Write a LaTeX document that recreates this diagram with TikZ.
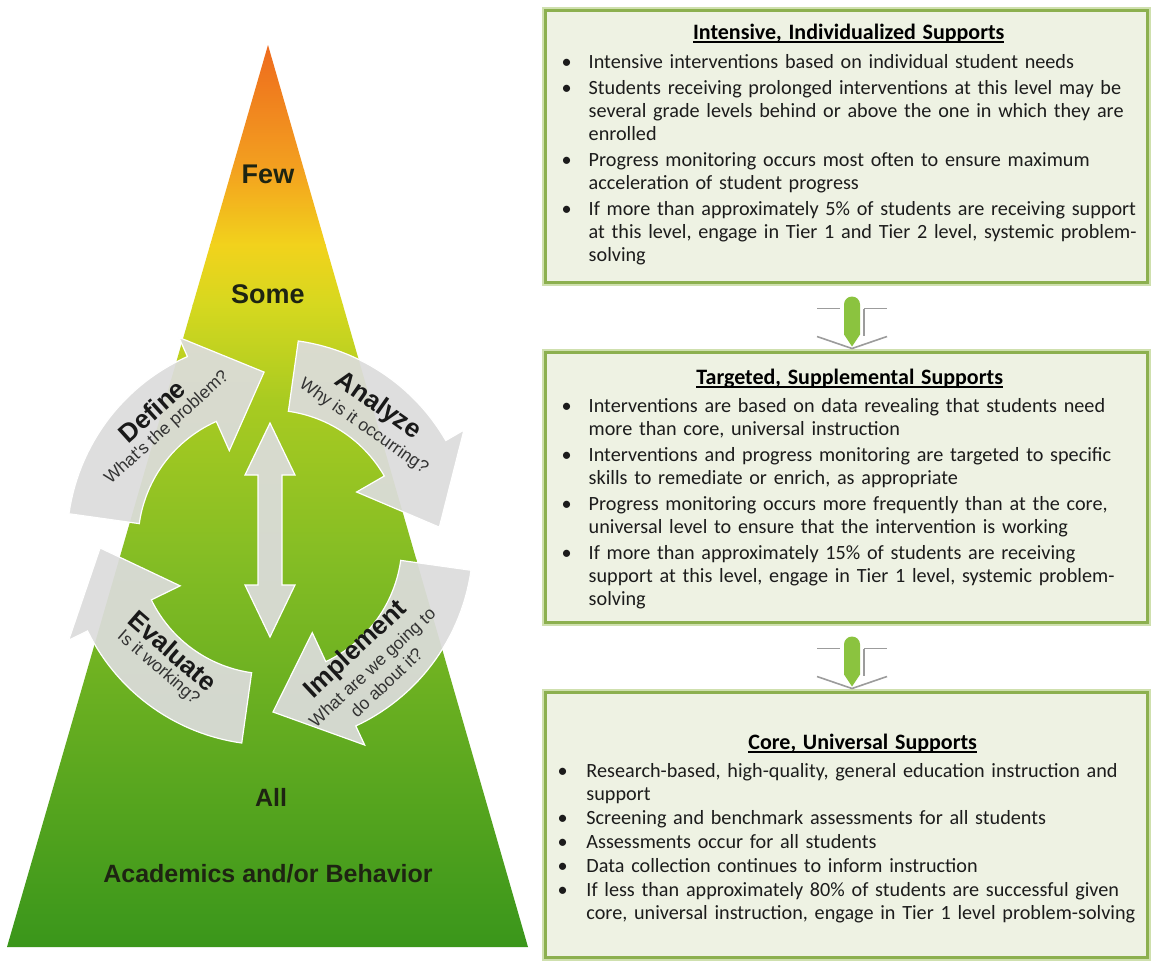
\documentclass[tikz,border=0pt]{standalone}
\usepackage{fontspec}
\setmainfont{Carlito}
\newfontfamily\pyrfont{Liberation Sans}
\usetikzlibrary{calc, positioning}

\definecolor{pyrorange}{HTML}{EE6A1E}
\definecolor{pyramber}{HTML}{F3A11F}
\definecolor{pyryellow}{HTML}{F2D21C}
\definecolor{pyrlime}{HTML}{D6D81F}
\definecolor{pyrleaf}{HTML}{A9CB21}
\definecolor{pyrgreen}{HTML}{84BD24}
\definecolor{pyrdark}{HTML}{3A961B}
\definecolor{pyrink}{HTML}{1E2412}
\definecolor{cyclegray}{HTML}{DCDCDC}
\definecolor{tierline}{HTML}{8CB04F}
\definecolor{tierglow}{HTML}{CFE0AE}
\definecolor{tierfill}{HTML}{EEF2E3}
\definecolor{tierink}{HTML}{1C1C1C}
\definecolor{linkgreen}{HTML}{8BC33F}
\definecolor{linkgraycol}{HTML}{9C9C9C}

% ring of the cycle: inner, outer, barbs, tip
\newcommand{\cycri}{132}
\newcommand{\cycro}{203}
\newcommand{\cycbi}{100}
\newcommand{\cycbo}{224}
\newcommand{\cycrt}{170}

\tikzset{
    tierbox/.style={draw=tierline, line width=3pt, fill=tierfill, minimum width=602pt,
        preaction={draw=tierglow, line width=7pt}},
    tiertext/.style={anchor=north west, inner sep=0pt, align=left, text width=600pt,
        text=tierink, font=\fontsize{20.2}{23}\selectfont},
    pyrlabel/.style={anchor=base, inner sep=0pt, text=pyrink,
        font=\pyrfont\bfseries\fontsize{27}{30}\selectfont},
    cyclearrow/.style={fill=cyclegray, fill opacity=0.93, draw=white, line width=1.2pt},
    cycletitle/.style={inner sep=2.5pt, text=black!90, font=\pyrfont\bfseries\fontsize{26}{28}\selectfont},
    cyclesub/.style={inner sep=2pt, anchor=north, align=center, text=black!80,
        font=\pyrfont\fontsize{17.5}{21}\selectfont},
    linkline/.style={draw=linkgraycol, line width=1.6pt}
}

\newcommand{\blt}[1][30pt]{\makebox[#1][l]{\hspace{3pt}\textbullet}}
\newcommand{\bind}[1][30pt]{\hspace*{#1}}
\newcommand{\tierul}[1]{\setbox0=\hbox{#1}\rlap{\rule[-3.5pt]{\wd0}{1.8pt}}\box0}
\newcommand{\tierhead}[2]{\makebox[#1][c]{\color{black}\fontsize{22}{23}\selectfont\bfseries\tierul{#2}}}

% double arrow between two tier boxes
\newcommand{\tierlink}[2]{%
    \path ($(#1.south)+(6,0)$) coordinate (lt) ($(#2.north)+(6,0)$) coordinate (lb);
    \draw[linkline] ($(lt)+(-35,25)$) -- ($(lt)+(-12,25)$);
    \draw[linkline] ($(lt)+(12,25)$) -- ($(lt)+(35,25)$);
    \draw[linkline] ($(lt)+(12,25)$) -- ($(lb)+(12,-15)$);
    \draw[linkline] ($(lb)+(-35,-14)$) -- ($(lb)+(0,-2)$) -- ($(lb)+(35,-14)$);
    \fill[linkgreen] ($(lt)+(0,21)$) circle[radius=8pt];
    \fill[linkgreen] ($(lt)+(-8,21)$) -- ($(lt)+(8,21)$) -- ($(lb)+(8,-16)$)
        -- ($(lb)+(0,-4)$) -- ($(lb)+(-8,-16)$) -- cycle;
}

\begin{document}
\begin{tikzpicture}[x=1pt, y=-1pt]
    \fill[white] (0,0) rectangle (1151,962);
    \useasboundingbox (0,0) rectangle (1151,962);

    % pyramid
    \coordinate (apex) at (268,45);
    \coordinate (baseL) at (7,947);
    \coordinate (baseR) at (528,947);
    \begin{scope}
        \clip (apex) -- (baseR) -- (baseL) -- cycle;
        \foreach \ya/\yb/\ca/\cb in {44/170/pyrorange/pyramber, 169/245/pyramber/pyryellow,
            244/305/pyryellow/pyrlime, 304/400/pyrlime/pyrleaf, 399/560/pyrleaf/pyrgreen,
            559/948/pyrgreen/pyrdark}
            \shade[top color=\ca, bottom color=\cb] (0,\ya) rectangle (540,\yb);
    \end{scope}

    % cycle of four arrows (angles clockwise, y down)
    \coordinate (cyc) at (270,542);
    \begin{scope}[shift={(cyc)}]
        \foreach \ta/\hb/\tp in {188/246/268, 278/330/355, 368/425/449, 98/154/178}
            \path[cyclearrow] plot[domain=\ta:\hb, samples=30] (\x:\cycro) -- (\hb:\cycbo)
                -- (\tp:\cycrt) -- (\hb:\cycbi) -- plot[domain=\hb:\ta, samples=30] (\x:\cycri) -- cycle;
        \path[cyclearrow] (0,-119) -- (25,-67) -- (12,-67) -- (12,43) -- (25,43) -- (0,95)
            -- (-25,43) -- (-12,43) -- (-12,-67) -- (-25,-67) -- cycle;
    \end{scope}

    \node[pyrlabel] (few) at (268,183) {Few};
    \node[pyrlabel] (some) at (268,303) {Some};
    \node[pyrlabel, font=\pyrfont\bfseries\fontsize{25}{28}\selectfont] (all) at (271,806) {All};
    \node[pyrlabel, font=\pyrfont\bfseries\fontsize{25}{28}\selectfont] (domain) at (268,882) {Academics and/or Behavior};

    \node[cycletitle, rotate=42] (define) at (152,411) {Define};
    \node[cyclesub, rotate=42] (define-sub) at (define.south) {What's the problem?};
    \node[cycletitle, rotate=-35] (analyze) at (378,406) {Analyze};
    \node[cyclesub, rotate=-35] (analyze-sub) at (analyze.south) {Why is it occurring?};
    \node[cycletitle, rotate=-41] (evaluate) at (173,651) {Evaluate};
    \node[cyclesub, rotate=-41] (evaluate-sub) at (evaluate.south) {Is it working?};
    \node[cycletitle, rotate=43] (implement) at (356,650) {Implement};
    \node[cyclesub, rotate=43] (implement-sub) at (implement.south) {What are we going to\\do about it?};

    % tier boxes
    \node[tierbox, minimum height=272pt] (intensive) at (846,146) {};
    \node[tierbox, minimum height=270pt] (targeted) at (846,487) {};
    \node[tierbox, minimum height=265pt] (core) at (846,824.5) {};

    \tierlink{intensive}{targeted}
    \tierlink{targeted}{core}

    \node[tiertext, below right=14.4pt and 15pt of intensive.north west] (intensive-text) {%
        \strut\tierhead{580pt}{Intensive, Individualized Supports}\\[6pt]
        \blt Intensive interventions based on individual student needs\\[3pt]
        \blt Students receiving prolonged interventions at this level may be\\
        \bind several grade levels behind or above the one in which they are\\
        \bind enrolled\\[3pt]
        \blt Progress monitoring occurs most often to ensure maximum\\
        \bind acceleration of student progress\\[3pt]
        \blt If more than approximately 5\% of students are receiving support\\
        \bind at this level, engage in Tier 1 and Tier 2 level, systemic problem-\\
        \bind solving};

    \node[tiertext, below right=17.4pt and 15pt of targeted.north west] (targeted-text) {%
        \strut\tierhead{582pt}{Targeted, Supplemental Supports}\\[5pt]
        \blt Interventions are based on data revealing that students need\\
        \bind more than core, universal instruction\\[3pt]
        \blt Interventions and progress monitoring are targeted to specific\\
        \bind skills to remediate or enrich, as appropriate\\[3pt]
        \blt Progress monitoring occurs more frequently than at the core,\\
        \bind universal level to ensure that the intervention is working\\[3pt]
        \blt If more than approximately 15\% of students are receiving\\
        \bind support at this level, engage in Tier 1 level, systemic problem-\\
        \bind solving};

    \node[tiertext, text width=620pt, below right=42.4pt and 11pt of core.north west] (core-text) {%
        \strut\tierhead{616pt}{Core, Universal Supports}\\[5pt]
        \blt[25pt] Research-based, high-quality, general education instruction and\\
        \bind[25pt] support\\[1pt]
        \blt[25pt] Screening and benchmark assessments for all students\\[1pt]
        \blt[25pt] Assessments occur for all students\\[1pt]
        \blt[25pt] Data collection continues to inform instruction\\[1pt]
        \blt[25pt] If less than approximately 80\% of students are successful given\\
        \bind[25pt] core, universal instruction, engage in Tier 1 level problem-solving};
\end{tikzpicture}
\end{document}
